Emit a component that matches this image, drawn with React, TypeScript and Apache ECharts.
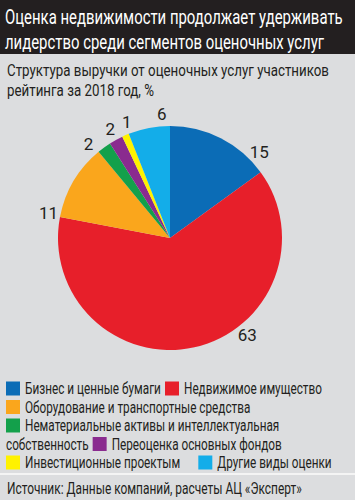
import React, { useEffect, useRef } from "react";
import * as echarts from "echarts";

const titleLines = [
  "Оценка недвижимости продолжает удерживать",
  "лидерство среди сегментов оценочных услуг",
];
const subtitleLines = [
  "Структура выручки от оценочных услуг участников",
  "рейтинга за 2018 год, %",
];
const categories = [
  "Бизнес и ценные бумаги",
  "Недвижимое имущество",
  "Оборудование и транспортные средства",
  "Нематериальные активы и интеллектуальная собственность",
  "Переоценка основных фондов",
  "Инвестиционные проектым",
  "Другие виды оценки",
];
const values = [15, 63, 11, 2, 2, 1, 6];
const colors = ["#0b6cb6", "#e71f2a", "#faa61c", "#13a04b", "#8a2b8f", "#fff200", "#13ade9"];
// legend layout: rows of items; idx = category with swatch, text = label shown
const legendRows: Array<Array<{ idx?: number; text: string }>> = [
  [{ idx: 0, text: "Бизнес и ценные бумаги" }, { idx: 1, text: "Недвижимое имущество" }],
  [{ idx: 2, text: "Оборудование и транспортные средства" }],
  [{ idx: 3, text: "Нематериальные активы и интеллектуальная" }],
  [{ text: "собственность" }, { idx: 4, text: "Переоценка основных фондов" }],
  [{ idx: 5, text: "Инвестиционные проектым" }, { idx: 6, text: "Другие виды оценки" }],
];
// label angle shifts (degrees, clockwise) relative to slice middle, to mimic the hand-placed labels
const labelShift = [19, -26, -19, -5, 0, 3, 7];
const sourceText = "Источник: Данные компаний, расчеты АЦ «Эксперт»";

const FONT = "Roboto";

function measure(text: string, size: number) {
  const c = document.createElement("canvas").getContext("2d")!;
  c.font = `${size}px ${FONT}`;
  return c.measureText(text).width;
}

export default function App() {
  const ref = useRef<HTMLDivElement>(null);
  useEffect(() => {
    if (!ref.current) return;
    const chart = echarts.init(ref.current, undefined, { renderer: "svg" });

    const LEG_FS = 17;
    const titleScale = 338 / measure(titleLines[0], 21);
    const subScale = 322 / measure(subtitleLines[0], 17);
    const legScale = 136 / measure(legendRows[0][0].text, LEG_FS);
    const srcScale = 295 / measure(sourceText, 16);

    const legendEls: any[] = [];
    const legTop = 388.5;
    const legStep = 18.5;
    legendRows.forEach((row, ri) => {
      let x = 6;
      const yc = legTop + ri * legStep;
      row.forEach((it, k) => {
        if (k > 0) x += ri === 4 ? 18 : 4;
        if (it.idx !== undefined) {
          legendEls.push({
            type: "rect",
            x,
            y: yc - 7,
            shape: { width: 14, height: 14 },
            style: { fill: colors[it.idx] },
          });
          x += 19;
        }
        legendEls.push({
          type: "text",
          x,
          y: yc,
          scaleX: legScale,
          style: {
            text: it.text,
            fill: "#231f20",
            font: `${LEG_FS}px ${FONT}`,
            verticalAlign: "middle",
          },
        });
        x += measure(it.text, LEG_FS) * legScale;
      });
    });

    const cx = 170, cy = 238, R = 112, labelR = 124;
    const total = values.reduce((a, b) => a + b, 0);
    const cum: number[] = [];
    values.reduce((acc, v, i) => {
      cum[i] = acc + v / 2;
      return acc + v;
    }, 0);

    chart.setOption({
      animation: false,
      backgroundColor: "#dcdddf",
      graphic: [
        { type: "rect", x: 0, y: 0, shape: { width: 355, height: 54 }, style: { fill: "#231f20" } },
        {
          type: "text",
          x: 5,
          y: 4,
          scaleX: titleScale,
          style: {
            text: titleLines.join("\n"),
            fill: "#ffffff",
            font: `21px ${FONT}`,
            lineHeight: 25,
          },
        },
        {
          type: "text",
          x: 7,
          y: 60,
          scaleX: subScale,
          style: {
            text: subtitleLines.join("\n"),
            fill: "#231f20",
            font: `17px ${FONT}`,
            lineHeight: 20,
          },
        },
        ...legendEls,
        { type: "rect", x: 0, y: 473, shape: { width: 355, height: 2 }, style: { fill: "#f4f4f4" } },
        {
          type: "text",
          x: 7,
          y: 480,
          scaleX: srcScale,
          style: { text: sourceText, fill: "#231f20", font: `16px ${FONT}` },
        },
      ],
      series: [
        {
          type: "pie",
          center: [cx, cy],
          radius: [0, R],
          startAngle: 90,
          clockwise: true,
          avoidLabelOverlap: false,
          label: {
            show: true,
            position: "outside",
            formatter: "{c}",
            color: "#231f20",
            fontFamily: FONT,
            fontSize: 17,
          },
          labelLine: { show: false, length: 6, length2: 0 },
          labelLayout: (p: any) => {
            const i = p.dataIndex;
            const ang = ((cum[i] / total) * 360 + labelShift[i]) * (Math.PI / 180);
            return {
              x: cx + labelR * Math.sin(ang),
              y: cy - labelR * Math.cos(ang),
              align: "center",
              verticalAlign: "middle",
            };
          },
          itemStyle: { borderWidth: 0 },
          emphasis: { disabled: true },
          data: categories.map((name, i) => ({
            name,
            value: values[i],
            itemStyle: { color: colors[i] },
          })),
        },
      ],
    });
    return () => chart.dispose();
  }, []);
  return (
    <div
      ref={ref}
      style={{ position: "fixed", left: 0, top: 0, width: 355, height: 500 }}
    />
  );
}
